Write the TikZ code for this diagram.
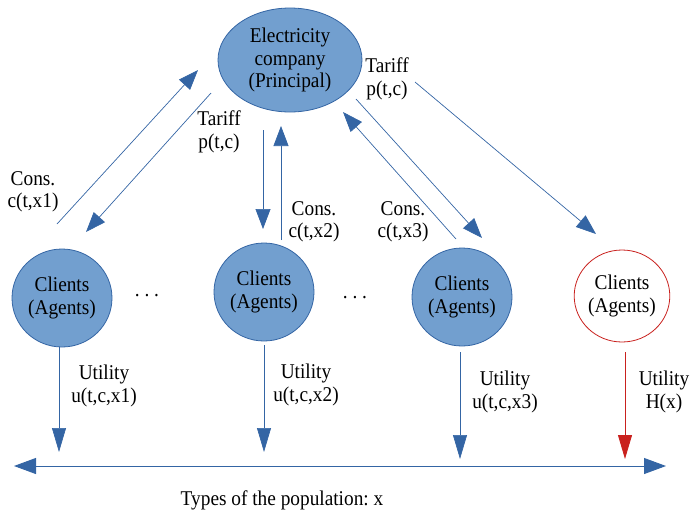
\documentclass[tikz,border=0pt]{standalone}
\usepackage{fontspec}
\setmainfont[FakeStretch=0.92]{Liberation Serif}
\usetikzlibrary{arrows.meta,shapes.geometric}
\definecolor{bfill}{HTML}{729FCF}
\definecolor{bdraw}{HTML}{3465A4}
\definecolor{rline}{HTML}{C9211E}
\frenchspacing
\begin{document}
\begin{tikzpicture}[x=1pt,y=-1pt,
  txt/.style={font=\fontsize{21}{22.5}\selectfont, align=center, inner sep=0pt},
  company/.style={ellipse, draw=bdraw, fill=bfill, line width=0.8pt, minimum width=144pt, minimum height=104pt, txt},
  client/.style={ellipse, draw=bdraw, fill=bfill, line width=0.8pt, minimum width=100pt, minimum height=98pt, txt},
  hclient/.style={ellipse, draw=rline, fill=white, line width=0.8pt, minimum width=86pt, minimum height=92pt, txt},
  flow/.style={draw=bdraw, line width=0.7pt, -{Triangle[length=20pt,width=15pt]}},
  util/.style={draw=bdraw, line width=0.7pt, -{Triangle[length=24pt,width=14pt]}},
  hutil/.style={draw=rline, line width=0.9pt, -{Triangle[length=24pt,width=14pt]}}
]
\useasboundingbox (0,0) rectangle (691,512);

\node[company] (E) at (290,60) {Electricity\\company\\(Principal)};
\node[client] (C1) at (62,298) {Clients\\(Agents)};
\node[client] (C2) at (264,292) {Clients\\(Agents)};
\node[client] (C3) at (462,297) {Clients\\(Agents)};
\node[hclient] (C4) at (622,296) {Clients\\(Agents)};

\node[txt] (d1) at (147,296) {. . .};
\node[txt] (d2) at (355,298) {. . .};

% left pair
\coordinate (a1s) at (57,224); \coordinate (a1e) at (198,70);
\coordinate (b1s) at (211,93); \coordinate (b1e) at (86,232);
\draw[flow] (a1s) -- (a1e);
\draw[flow] (b1s) -- (b1e);
\node[txt] (L1) at (33,192) {Cons.\\c(t,x1)};
\node[txt] (T1) at (219,132) {Tariff\\p(t,c)};

% middle pair
\coordinate (a2s) at (263,130); \coordinate (a2e) at (263,229);
\coordinate (b2s) at (281,240); \coordinate (b2e) at (281,126);
\draw[flow] (a2s) -- (a2e);
\draw[flow] (b2s) -- (b2e);
\node[txt] (L2) at (314,222) {Cons.\\c(t,x2)};

% right pair
\coordinate (a3s) at (456,239); \coordinate (a3e) at (343,112);
\coordinate (b3s) at (356,99); \coordinate (b3e) at (482,238);
\draw[flow] (a3s) -- (a3e);
\draw[flow] (b3s) -- (b3e);
\node[txt] (L3) at (403,222) {Cons.\\c(t,x3)};

% tariff to H
\coordinate (a4s) at (415,82); \coordinate (a4e) at (596,234);
\draw[flow] (a4s) -- (a4e);
\node[txt] (T4) at (387,79) {Tariff\\p(t,c)};

% utilities
\coordinate (u1s) at (59,347); \coordinate (u1e) at (59,452);
\coordinate (u2s) at (264,345); \coordinate (u2e) at (264,452);
\coordinate (u3s) at (460,352); \coordinate (u3e) at (460,459);
\coordinate (u4s) at (625,352); \coordinate (u4e) at (625,459);
\draw[util] (u1s) -- (u1e);
\draw[util] (u2s) -- (u2e);
\draw[util] (u3s) -- (u3e);
\draw[hutil] (u4s) -- (u4e);
\node[txt] (U1) at (104,386) {Utility\\u(t,c,x1)};
\node[txt] (U2) at (306,385) {Utility\\u(t,c,x2)};
\node[txt] (U3) at (505,392) {Utility\\u(t,c,x3)};
\node[txt] (U4) at (664,392) {Utility\\H(x)};

% population axis
\coordinate (xl) at (14,466); \coordinate (xr) at (666,466);
\draw[draw=bdraw, line width=0.9pt, {Triangle[length=22pt,width=16pt]}-{Triangle[length=22pt,width=16pt]}] (xl) -- (xr);
\node[txt] (X) at (282,500) {Types of the population: x};
\end{tikzpicture}
\end{document}
